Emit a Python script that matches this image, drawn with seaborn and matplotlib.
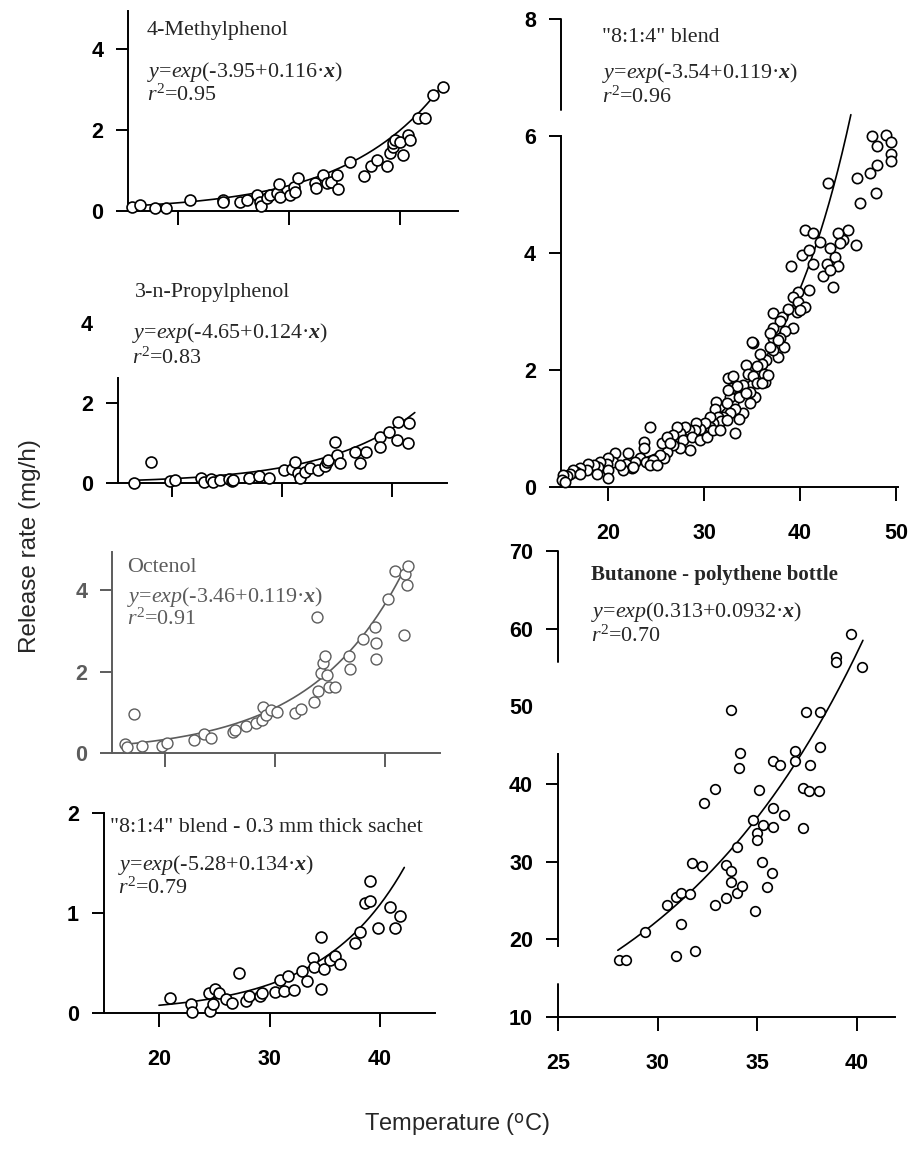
import numpy as np
import pandas as pd
import matplotlib
matplotlib.use("Agg")
import matplotlib.pyplot as plt
import seaborn as sns

# ---------------- data ----------------
# Panel 1: 4-Methylphenol
mp_T = [15.8, 16.55, 17.9, 18.9, 21.1, 24.0, 24.0, 25.6, 26.2, 27.1, 27.4, 27.5, 28.0, 28.3, 28.9,
        29.1, 29.2, 30.1, 30.4, 30.8, 30.5, 32.3, 32.4, 33.1, 33.4, 33.8, 34.3, 34.4, 35.5, 36.8,
        37.4, 37.9, 38.8, 39.1, 39.4, 39.4, 39.6, 40.0, 40.3, 40.75, 40.9, 41.65, 42.3, 43.0, 43.9]
mp_R = [0.08, 0.14, 0.06, 0.06, 0.26, 0.26, 0.22, 0.21, 0.26, 0.39, 0.22, 0.12, 0.31, 0.39, 0.43,
        0.66, 0.35, 0.39, 0.60, 0.80, 0.47, 0.69, 0.57, 0.88, 0.68, 0.72, 0.88, 0.55, 1.20, 0.87,
        1.12, 1.26, 1.12, 1.42, 1.59, 1.67, 1.75, 1.71, 1.38, 1.88, 1.75, 2.29, 2.29, 2.87, 3.07]
mp_coef = (-3.95, 0.116)

# Panel 2: 3-n-Propylphenol
pp_T = [16.6, 18.1, 19.8, 20.3, 22.7, 22.9, 23.6, 23.8, 24.4, 25.2, 25.5, 25.6, 27.0, 27.9, 28.8,
        30.2, 30.9, 31.2, 31.5, 31.7, 32.1, 32.6, 33.3, 33.9, 34.1, 34.2, 34.85, 35.0, 35.3, 36.7,
        37.1, 37.7, 38.9, 38.9, 39.8, 40.5, 40.6, 41.5, 41.6]
pp_R = [0.0, 0.52, 0.06, 0.08, 0.12, 0.04, 0.10, 0.04, 0.08, 0.11, 0.06, 0.08, 0.12, 0.18, 0.14,
        0.33, 0.36, 0.52, 0.25, 0.12, 0.29, 0.38, 0.33, 0.42, 0.52, 0.58, 1.04, 0.71, 0.50, 0.79,
        0.50, 0.79, 1.17, 0.92, 1.29, 1.08, 1.54, 1.02, 1.50]
pp_coef = (-4.65, 0.124)

# Panel 3: Octenol
oc_T = [16.4, 16.5, 17.2, 17.9, 19.7, 20.15, 22.6, 23.5, 24.2, 26.2, 26.4, 27.4, 28.3, 28.8, 28.9,
        29.2, 29.6, 30.15, 31.8, 32.4, 33.5, 33.8, 33.9, 34.2, 34.4, 34.5, 34.7, 34.9, 35.45, 36.75,
        36.8, 38.0, 39.1, 39.2, 39.2, 40.3, 40.9, 41.7, 41.8, 42.0, 42.1]
oc_R = [0.22, 0.16, 0.96, 0.18, 0.18, 0.26, 0.33, 0.47, 0.37, 0.52, 0.57, 0.67, 0.74, 0.82, 1.13,
        0.94, 1.07, 1.02, 0.98, 1.08, 1.27, 3.36, 1.52, 1.97, 2.21, 2.39, 1.93, 1.62, 1.62, 2.38,
        2.07, 2.80, 3.10, 2.72, 2.32, 3.80, 4.47, 2.91, 4.41, 4.14, 4.59]
oc_coef = (-3.46, 0.119)

# Panel 4: "8:1:4" blend - 0.3 mm thick sachet
sa_T = [21.0, 22.9, 22.95, 24.5, 24.6, 25.1, 24.9, 25.4, 26.1, 26.6, 27.2, 27.9, 28.1, 29.1, 29.3,
        30.5, 30.95, 31.3, 31.7, 32.2, 32.9, 33.4, 33.9, 34.0, 34.7, 34.7, 34.9, 35.5, 35.9, 36.4,
        37.7, 38.2, 38.6, 39.1, 39.1, 39.8, 40.9, 41.35, 41.8]
sa_R = [0.15, 0.09, 0.01, 0.20, 0.02, 0.24, 0.09, 0.20, 0.14, 0.10, 0.40, 0.12, 0.17, 0.17, 0.20,
        0.21, 0.33, 0.22, 0.37, 0.23, 0.42, 0.32, 0.55, 0.46, 0.76, 0.24, 0.44, 0.53, 0.57, 0.49,
        0.70, 0.81, 1.10, 1.32, 1.12, 0.85, 1.06, 0.85, 0.97]
sa_coef = (-5.28, 0.134)

# Panel 5: "8:1:4" blend
bl_T = [47.47, 48.0, 48.96, 49.44, 49.5, 49.5, 48.06, 47.3, 45.97, 47.9, 46.2, 42.95, 45.03, 45.8,
        44.5, 44.0, 44.2, 43.65, 44.0, 43.47, 43.1, 42.1, 40.5, 40.2, 40.9, 39.1, 41.4, 42.4, 42.8,
        43.1, 40.9, 39.8, 39.3, 39.8, 40.5, 39.65, 39.3, 37.2, 38.1, 37.9, 38.4, 37.2, 37.2, 37.9,
        38.3, 37.7, 37.2, 36.5, 35.8, 35.1, 34.96, 36.0, 35.5, 34.4, 34.6, 35.1, 36.2, 35.5, 36.35,
        35.3, 34.8, 34.1, 34.1, 33.2, 33.05, 32.7, 32.5, 33.05, 32.9, 33.4, 33.6, 32.5, 32.36, 33.2,
        32.7, 32.0, 31.3, 31.1, 31.5, 31.8, 30.97, 30.6, 30.6, 30.1, 29.6, 29.2, 29.06, 28.4, 28.0,
        27.5, 27.15, 26.8, 27.85, 28.7, 29.6, 30.3, 28.5, 27.5, 26.8, 26.1, 25.8, 25.4, 24.4, 23.7,
        23.7, 23.3, 24.0, 24.7, 24.4, 25.1, 22.8, 22.1, 21.9, 22.5, 21.6, 20.7, 20.55, 20.0, 19.9,
        20.0, 20.0, 19.2, 19.0, 18.5, 17.95, 17.8, 17.1, 16.7, 16.4, 16.0, 15.7, 15.35, 15.2, 15.5,
        17.1, 18.8, 21.25, 22.6, 25.6, 26.1, 26.5, 30.97, 31.7, 32.36, 33.6, 34.4, 34.8, 36.0, 36.7,
        36.9, 37.7, 36.9, 38.8, 40.0, 41.4]
bl_R = [6.00, 5.83, 6.02, 5.90, 5.69, 5.57, 5.50, 5.36, 5.28, 5.02, 4.85, 5.19, 4.40, 4.14,
        4.23, 4.34, 4.17, 3.94, 3.77, 3.42, 4.08, 4.19, 4.39, 3.97, 4.05, 3.77, 3.82, 3.60, 3.82,
        3.71, 3.37, 3.34, 3.25, 3.17, 3.08, 3.00, 2.71, 2.97, 2.91, 2.83, 2.66, 2.71, 2.54, 2.54,
        2.40, 2.23, 2.34, 2.17, 2.28, 2.46, 2.48, 2.11, 2.06, 2.09, 1.94, 1.89, 1.94, 1.77, 1.80,
        1.54, 1.63, 1.74, 1.26, 0.92, 1.43, 1.54, 1.86, 1.89, 1.69, 1.72, 1.54, 1.66, 1.43, 1.34,
        1.26, 1.20, 1.46, 1.34, 1.20, 1.12, 1.09, 1.20, 1.03, 1.09, 1.00, 1.09, 0.97, 0.97, 1.03,
        0.92, 1.03, 0.89, 0.80, 0.86, 0.80, 0.86, 0.63, 0.66, 0.72, 0.60, 0.49, 0.55, 1.03, 0.77,
        0.66, 0.49, 0.43, 0.46, 0.38, 0.38, 0.43, 0.58, 0.40, 0.32, 0.29, 0.58, 0.43, 0.49, 0.40,
        0.29, 0.15, 0.43, 0.35, 0.38, 0.40, 0.29, 0.32, 0.26, 0.29, 0.23, 0.18, 0.20, 0.12, 0.09,
        0.23, 0.23, 0.38, 0.35, 0.75, 0.86, 0.75, 0.97, 0.97, 1.15, 1.17, 1.60, 1.43, 1.77, 1.91,
        2.40, 2.51, 2.63, 3.05, 3.03, 4.34]
bl_coef = (-3.54, 0.119)

# Panel 6: Butanone - polythene bottle
bu_T = [28.08, 28.4, 29.37, 30.46, 30.93, 31.18, 31.64, 30.9, 31.15, 31.72, 32.24, 31.89, 32.33,
        32.87, 32.9, 33.45, 33.42, 33.7, 33.7, 33.96, 34.24, 33.99, 33.66, 34.13, 34.09, 35.1, 34.8,
        35.0, 35.0, 35.27, 35.25, 35.47, 35.76, 34.9, 35.8, 35.8, 35.8, 36.14, 36.34, 36.87, 36.87,
        37.27, 37.29, 37.45, 37.57, 37.62, 38.13, 38.16, 38.11, 38.97, 38.97, 39.72, 40.26]
bu_R = [17.3, 17.3, 20.9, 24.4, 25.4, 26.0, 25.9, 17.8, 22.0, 29.8, 29.5, 18.5, 37.6,
        39.3, 24.4, 25.3, 29.6, 28.8, 27.4, 26.0, 26.9, 31.9, 49.5, 44.0, 42.0, 39.2, 35.4,
        33.7, 32.8, 34.7, 30.0, 26.8, 28.5, 23.7, 36.9, 34.5, 42.9, 42.4, 36.0, 44.3, 42.9,
        34.3, 39.5, 49.3, 39.1, 42.5, 49.3, 44.8, 39.1, 56.3, 55.7, 59.3, 55.0]
bu_coef = (0.313, 0.0932)

titles = ['4-Methylphenol', '3-n-Propylphenol', 'Octenol',
          '"8:1:4" blend - 0.3 mm thick sachet', '"8:1:4" blend', 'Butanone - polythene bottle']
r2_vals = ['0.95', '0.83', '0.91', '0.79', '0.96', '0.70']

# ---------------- style ----------------
sns.set_style("ticks")
plt.rcParams['font.family'] = ['Liberation Sans', 'DejaVu Sans']
plt.rcParams['mathtext.fontset'] = 'custom'
plt.rcParams['mathtext.rm'] = 'Liberation Serif'
plt.rcParams['mathtext.it'] = 'Liberation Serif:italic'
plt.rcParams['mathtext.bf'] = 'Liberation Serif:bold'
plt.rcParams['mathtext.bfit'] = 'Liberation Serif:italic:bold'

W, H = 911, 1160
fig = plt.figure(figsize=(W / 100, H / 100), dpi=100)
fig.patch.set_facecolor('white')

TXT = 15.8


def add_axes(l, r, t, b):
    ax = fig.add_axes([l / W, 1 - b / H, (r - l) / W, (b - t) / H])
    ax.set_facecolor('none')
    return ax


def fig_text(x, y, s, **kw):
    kw.setdefault('fontfamily', 'Liberation Serif')
    kw.setdefault('fontsize', TXT)
    fig.text(x / W, 1 - y / H, s, ha='left', va='center', **kw)


def eq_str(a, b):
    return r'$y$=$exp$(' + f"{a:g}" + '+' + f"{b:g}" + r'·$\mathbfit{x}$)'


def draw(ax, T, R, coef, fit_lo, fit_hi, color='black', s=62, lw=1.2):
    df = pd.DataFrame({'T': T, 'R': R})
    sns.scatterplot(data=df, x='T', y='R', ax=ax, s=s, color='white', edgecolor=color,
                    linewidth=lw, clip_on=False, zorder=3)
    xf = np.linspace(fit_lo, fit_hi, 200)
    fit = pd.DataFrame({'T': xf, 'R': np.exp(coef[0] + coef[1] * xf)})
    sns.lineplot(data=fit, x='T', y='R', ax=ax, color=color, lw=1.2, zorder=2)
    ax.set_xlabel('')
    ax.set_ylabel('')
    for sp in ['top', 'right']:
        ax.spines[sp].set_visible(False)
    for sp in ['left', 'bottom']:
        ax.spines[sp].set_color(color)
        ax.spines[sp].set_linewidth(1.4)
    ax.tick_params(direction='out', width=1.4, color=color, labelcolor=color, labelsize=15.5)
    ax.tick_params(axis='y', length=9, pad=9)
    ax.tick_params(axis='x', length=10, pad=4)
    for lab in ax.get_xticklabels() + ax.get_yticklabels():
        lab.set_fontweight('bold')


# Panel 1: 4-Methylphenol
ax1 = add_axes(128.4, 457.5, 11.2, 210.7)
draw(ax1, mp_T, mp_R, mp_coef, 15.6, 44.0)
ax1.set_xlim(15.5, 45.2)
ax1.set_ylim(0, 4.95)
ax1.set_xticks([20, 30, 40])
ax1.set_yticks([0, 2, 4])
ax1.set_yticklabels(['0', '2', '4'], fontweight='bold')
ax1.tick_params(axis='x', labelbottom=False)
fig_text(147, 31, titles[0])
fig_text(147, 72, eq_str(*mp_coef))
fig_text(147, 95, r'$r^2$=' + r2_vals[0])

# Panel 2: 3-n-Propylphenol
ax2 = add_axes(117.8, 446.7, 319.3, 483.3)
draw(ax2, pp_T, pp_R, pp_coef, 16.5, 42.1)
ax2.set_xlim(15.1, 45.0)
ax2.set_ylim(0, 4.1)
ax2.set_xticks([20, 30, 40])
ax2.set_yticks([0, 2, 4])
ax2.set_yticklabels(['0', '2', '4'], fontweight='bold')
ax2.spines['left'].set_bounds(0, 2.63)
ax2.yaxis.get_major_ticks()[2].tick1line.set_visible(False)
ax2.tick_params(axis='x', labelbottom=False)
fig_text(135, 293, titles[1])
fig_text(132, 333, eq_str(*pp_coef))
fig_text(132, 358, r'$r^2$=' + r2_vals[1])

# Panel 3: Octenol
gray = '#5c5c5c'
ax3 = add_axes(112.2, 440.0, 551.8, 753.3)
draw(ax3, oc_T, oc_R, oc_coef, 16.4, 41.9, color=gray, lw=1.0)
ax3.set_xlim(15.2, 45.0)
ax3.set_ylim(0, 4.95)
ax3.set_xticks([20, 30, 40])
ax3.set_yticks([0, 2, 4])
ax3.set_yticklabels(['0', '2', '4'])
ax3.tick_params(axis='x', labelbottom=False)
fig_text(127, 567, titles[2], color=gray)
fig_text(127, 597, eq_str(*oc_coef), color=gray)
fig_text(127, 619, r'$r^2$=' + r2_vals[2], color=gray)

# Panel 4: sachet
ax4 = add_axes(103.75, 435.25, 813.0, 1012.7)
draw(ax4, sa_T, sa_R, sa_coef, 20.0, 42.2)
ax4.set_xlim(15, 45)
ax4.set_ylim(0, 2)
ax4.set_xticks([20, 30, 40])
ax4.set_xticklabels(['20', '30', '40'], fontweight='bold')
ax4.set_yticks([0, 1, 2])
ax4.set_yticklabels(['0', '1', '2'], fontweight='bold')
ax4.tick_params(axis='x', pad=16)
fig_text(110, 828, titles[3])
fig_text(118, 865, eq_str(*sa_coef))
fig_text(118, 888, r'$r^2$=' + r2_vals[3])

# Panel 5: "8:1:4" blend
ax5 = add_axes(561.0, 897.9, 19.0, 487.0)
draw(ax5, bl_T, bl_R, bl_coef, 15.0, 45.3, s=55)
ax5.set_xlim(15.1, 50.2)
ax5.set_ylim(0, 8)
ax5.set_xticks([20, 30, 40, 50])
ax5.set_xticklabels(['20', '30', '40', '50'], fontweight='bold')
ax5.set_yticks([0, 2, 4, 6, 8])
ax5.set_yticklabels(['0', '2', '4', '6', '8'], fontweight='bold')
ax5.spines['left'].set_bounds(0, 6)
ax5.axvline(15.1, ymin=6.45 / 8, ymax=1.0, color='black', lw=1.4, clip_on=False)
ax5.tick_params(axis='x', pad=16)
fig_text(602, 37, titles[4])
fig_text(602, 73, eq_str(*bl_coef))
fig_text(602, 97, r'$r^2$=' + r2_vals[4])

# Panel 6: Butanone
ax6 = add_axes(558.0, 894.8, 551.0, 1017.0)
draw(ax6, bu_T, bu_R, bu_coef, 28.0, 40.3, s=48)
ax6.set_xlim(25, 41.9)
ax6.set_ylim(10, 70)
ax6.set_xticks([25, 30, 35, 40])
ax6.set_xticklabels(['25', '30', '35', '40'], fontweight='bold')
ax6.set_yticks([10, 20, 30, 40, 50, 60, 70])
ax6.set_yticklabels(['10', '20', '30', '40', '50', '60', '70'], fontweight='bold')
ax6.spines['left'].set_bounds(19.2, 43.8)
ax6.axvline(25, ymin=(55.7 - 10) / 60, ymax=1.0, color='black', lw=1.4, clip_on=False)
ax6.axvline(25, ymin=-0.012, ymax=(14.2 - 10) / 60, color='black', lw=1.4, clip_on=False)
ax6.yaxis.get_major_ticks()[4].tick1line.set_visible(False)
ax6.tick_params(axis='x', pad=16)
fig_text(591, 575, titles[5], fontweight='bold', fontsize=15)
fig_text(591, 612, r'$y$=$exp$(' + f"{bu_coef[0]:g}" + '+' + f"{bu_coef[1]:g}" + r'·$\mathbfit{x}$)')
fig_text(591, 636, r'$r^2$=' + r2_vals[5])

# shared axis labels
fig.text(30 / W, 1 - 546 / H, 'Release rate (mg/h)', rotation=90, ha='center', va='center',
         fontsize=17.5, fontfamily='Liberation Sans')
fig.text(457 / W, 1 - 1125 / H, r'Temperature ($^{\mathsf{o}}$C)', ha='center', va='center',
         fontsize=17, fontfamily='Liberation Sans')

fig.savefig('out.png', dpi=100, facecolor='white')
